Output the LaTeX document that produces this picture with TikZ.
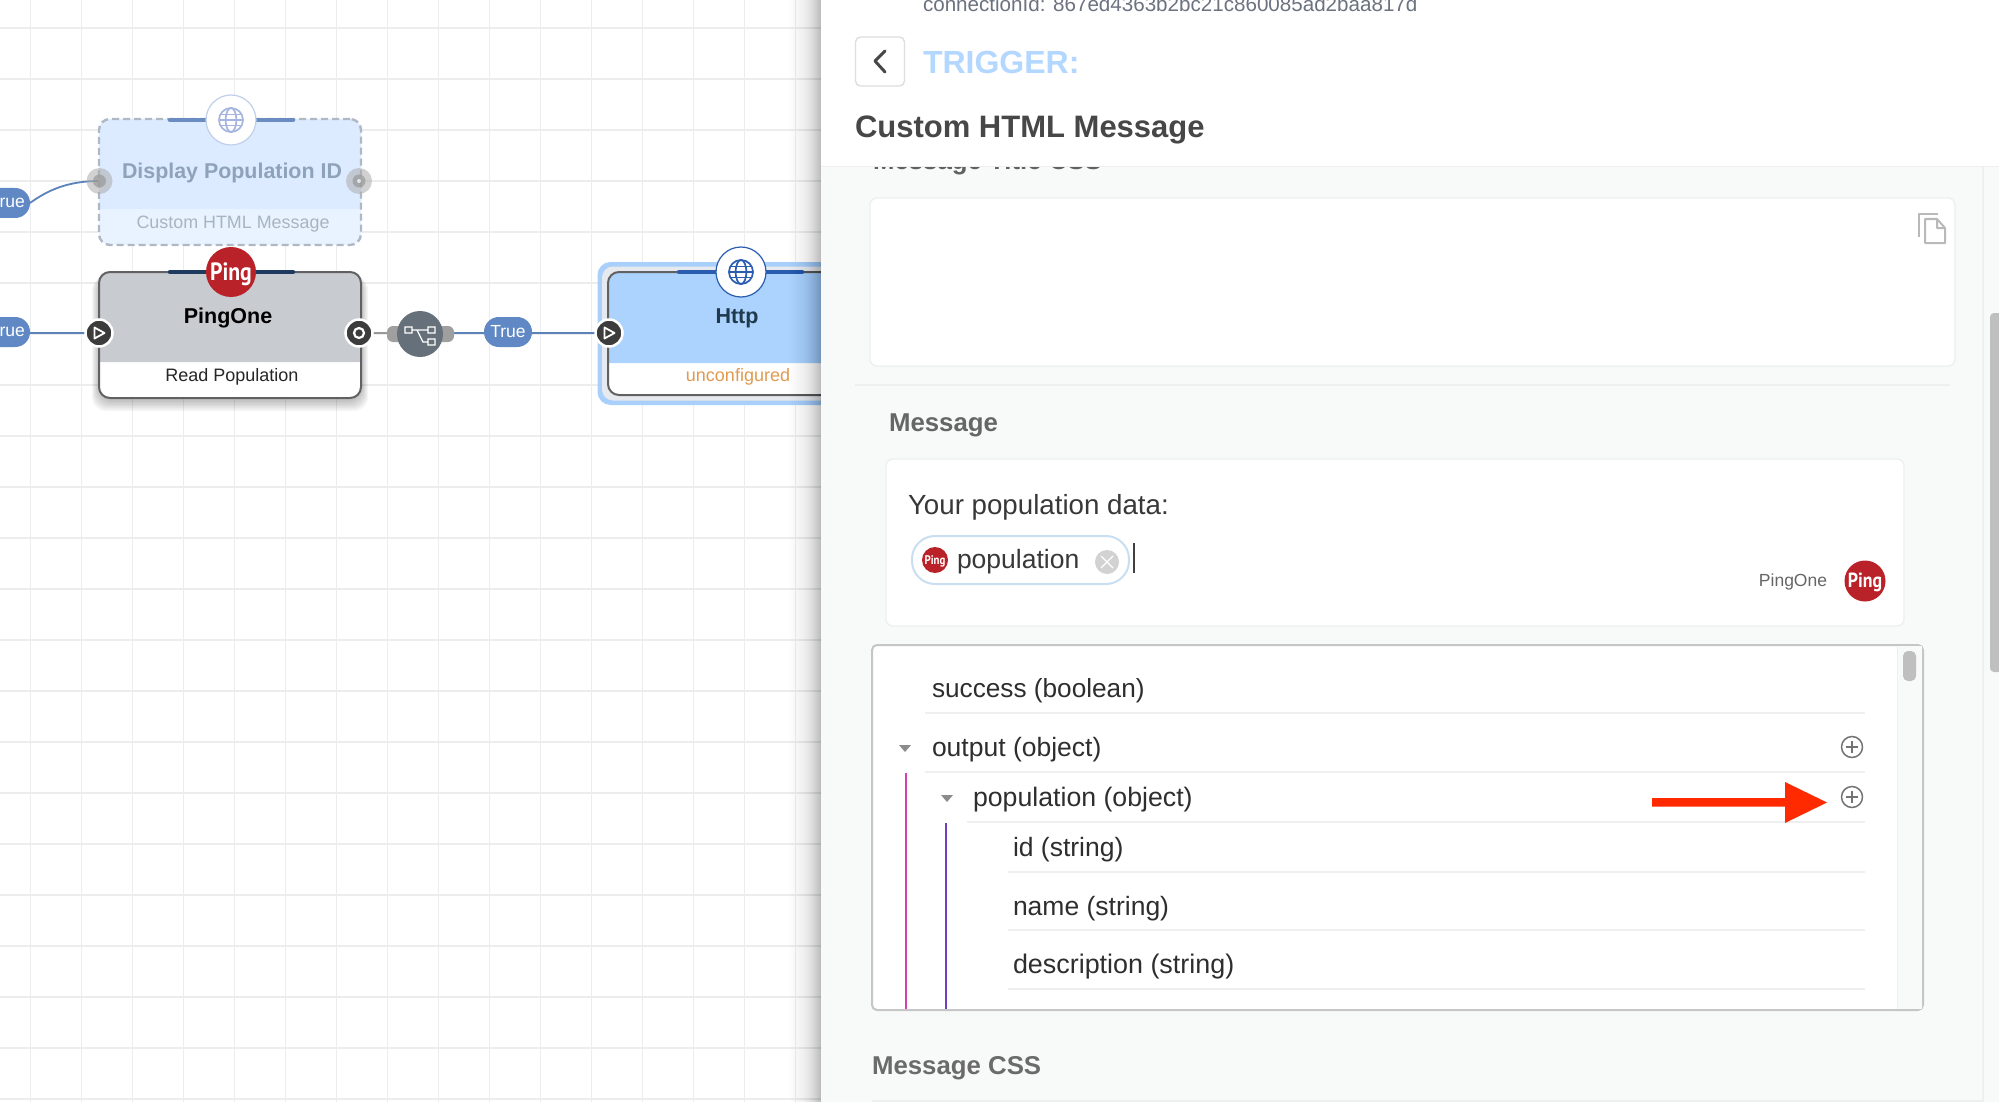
\documentclass[tikz,border=0pt]{standalone}
\usepackage{fontspec}
\setmainfont{Liberation Sans}
\newfontfamily\pingfont{PT Sans}
\usetikzlibrary{shapes.misc,backgrounds}
\definecolor{gridc}{HTML}{ECEDEF}
\definecolor{panelbg}{HTML}{F8F9F9}
\definecolor{sepc}{HTML}{EEEFF0}
\definecolor{edgec}{HTML}{5B82BB}
\definecolor{pillc}{HTML}{5F88C4}
\definecolor{pingred}{HTML}{B82228}
\definecolor{darkport}{HTML}{3C3C3C}
\definecolor{barc}{HTML}{1E3A5F}
\definecolor{httpbar}{HTML}{2A5CB0}
\definecolor{pinkc}{HTML}{D63FB0}
\definecolor{purplec}{HTML}{7040C0}
\definecolor{redarrow}{HTML}{FF2A00}
\definecolor{grayfill}{HTML}{C8CBD0}
\definecolor{httpfill}{HTML}{ABD3FD}
\definecolor{halo}{HTML}{A9D0FB}
\definecolor{halogap}{HTML}{E6E9EE}
\definecolor{orangec}{HTML}{E09A50}
\definecolor{triggerc}{HTML}{B3D7FF}
\definecolor{dispfill}{HTML}{DCEBFF}
\definecolor{dispfillb}{HTML}{E8F3FF}
\definecolor{disptext}{HTML}{8FA3B8}
\definecolor{dispsubt}{HTML}{A8B4C0}
\definecolor{dispdash}{HTML}{B0B8C4}
\definecolor{dispring}{HTML}{C0D0E8}
\definecolor{dispglobe}{HTML}{A5B5E0}
\definecolor{dispbar}{HTML}{6A8CC0}
\definecolor{httptext}{HTML}{1F3A4D}
\definecolor{branchc}{HTML}{66707A}
\definecolor{connc}{HTML}{6B7280}
\definecolor{chipc}{HTML}{C9DFF0}
\newcommand{\fs}[1]{\fontsize{#1}{#1}\selectfont}
\newcommand{\drawglobe}[4]{%
  \begin{scope}[shift={(#1,#2)},#4,line width=1.7pt]
    \draw (0,0) circle (#3 pt);
    \draw (0,0) ellipse ({0.45*#3 pt} and {#3 pt});
    \draw ({-#3 pt},0) -- ({#3 pt},0);
    \draw ({-0.9*#3 pt},{-0.45*#3 pt}) -- ({0.9*#3 pt},{-0.45*#3 pt});
    \draw ({-0.9*#3 pt},{0.45*#3 pt}) -- ({0.9*#3 pt},{0.45*#3 pt});
  \end{scope}}
\tikzset{
  x=1pt,y=-1pt,
  lbl/.style={inner sep=0pt,outer sep=0pt,anchor=base west},
  ctr/.style={inner sep=0pt,outer sep=0pt,anchor=center},
  flowbox/.style={rectangle,rounded corners=11pt,minimum width=262pt,minimum height=126pt,inner sep=0pt,outer sep=0pt},
  edgeline/.style={draw=edgec,line width=1.8pt},
  pill/.style={rectangle,rounded corners=14.9pt,fill=pillc,inner sep=0pt,outer sep=0pt,minimum height=30pt},
  badge/.style={circle,minimum size=50pt,inner sep=0pt,outer sep=0pt},
  port/.style={circle,fill=darkport,draw=white,line width=2.5pt,minimum size=27pt,inner sep=0pt,outer sep=0pt},
  barline/.style={line width=4.5pt,line cap=round},
  rowsep/.style={draw=sepc,line width=1.4pt},
  card/.style={rectangle,rounded corners=7pt,fill=white,draw=sepc,line width=1.4pt,inner sep=0pt,outer sep=0pt},
  rowtext/.style={lbl,text=black!82},
  plusicon/.style={circle,draw=black!55,line width=1.5pt,minimum size=21pt,inner sep=0pt,outer sep=0pt},
}
\begin{document}
\begin{tikzpicture}
\useasboundingbox (0,0) rectangle (1999,1102);
\clip (0,0) rectangle (1999,1102);

% ---- flow canvas: nodes on the main layer
\node[flowbox,draw=dispdash,dash pattern=on 7pt off 4pt,line width=2.4pt,
  path picture={
   \fill[dispfillb] (-140,-70) rectangle (140,70);
   \fill[dispfill] (-140,-70) rectangle (140,27);}] (dispbox) at (230,182) {};
\draw[barline,draw=dispbar] (170,120) -- (293,120);
\node[badge,fill=white,draw=dispring,line width=1.2pt] (dispbadge) at (231,120) {};
\drawglobe{231}{120}{12}{draw=dispglobe}
\node[ctr,font=\bfseries\fs{21.4},text=disptext] (disptitle) at (232,172.5) {Display Population ID};
\node[ctr,font=\fs{17.9},text=dispsubt] (dispsub) at (233,224) {Custom HTML Message};
\node[circle,fill=gray!65,opacity=.55,minimum size=26pt,inner sep=0pt] (portB) at (99.5,181) {};
\node[circle,fill=gray!80,opacity=.7,minimum size=13pt,inner sep=0pt] (portBi) at (99.5,181) {};
\node[circle,fill=gray!65,opacity=.55,minimum size=26pt,inner sep=0pt] (portBr) at (359,181) {};
\node[circle,fill=gray!80,opacity=.7,minimum size=13pt,inner sep=0pt] (portBri) at (359,181) {};
\node[circle,fill=white,opacity=.7,minimum size=4pt,inner sep=0pt] (portBrd) at (359,181) {};

\node[flowbox,draw=black!62,line width=2pt,
  path picture={
   \fill[white] (-140,-70) rectangle (140,70);
   \fill[grayfill] (-140,-70) rectangle (140,27);}] (pingbox) at (230,335) {};
\draw[barline,draw=barc] (170,272) -- (293,272);
\node[badge,fill=pingred] (pingbadge) at (231,272) {};
\node[ctr,font=\pingfont\bfseries\fs{25},text=white] (pingword) at (231,274) {\scalebox{.87}[1]{Ping}};
\node[ctr,font=\bfseries\fs{21.5},text=black] (pingtitle) at (228,318) {PingOne};
\node[ctr,font=\fs{18},text=black!85] (pingsub) at (232,377) {Read Population};
\node[port] (portA) at (99,333) {};
\draw[white,line width=1.8pt,line join=round] (94.5,327.5) -- (94.5,338.5) -- (104.5,333) -- cycle;
\node[port] (portAr) at (359,333) {};
\draw[white,line width=2.2pt] (359,333) circle (5pt);

\node[rectangle,rounded corners=13pt,fill=halo,minimum width=283pt,minimum height=143pt,inner sep=0pt] (httphalo) at (739,333.5) {};
\node[rectangle,rounded corners=11pt,fill=halogap,minimum width=274pt,minimum height=134pt,inner sep=0pt] (httpgap) at (739,333.5) {};
\node[flowbox,draw=black!62,line width=2pt,minimum height=123pt,
  path picture={
   \fill[white] (-140,-70) rectangle (140,70);
   \fill[httpfill] (-140,-70) rectangle (140,29.5);}] (httpbox) at (739,333.5) {};
\draw[barline,draw=httpbar] (679,272) -- (802,272);
\node[badge,fill=white,draw=httpbar,line width=1.2pt] (httpbadge) at (741,272) {};
\drawglobe{741}{272}{12}{draw=httpbar}
\node[ctr,font=\bfseries\fs{21.5},text=httptext] (httptitle) at (737,318) {Http};
\node[ctr,font=\fs{18},text=orangec] (httpsub) at (738,377) {unconfigured};
\node[port] (portC) at (609,333) {};
\draw[white,line width=1.8pt,line join=round] (604.5,327.5) -- (604.5,338.5) -- (614.5,333) -- cycle;

\node[rectangle,rounded corners=6pt,fill=gray!75,minimum width=67pt,minimum height=16pt,inner sep=0pt,outer sep=0pt] (branchnub) at (420.5,334) {};
\node[circle,fill=branchc,minimum size=46pt,inner sep=0pt,outer sep=0pt] (branch) at (420,334) {};
\draw[white,line width=1.3pt] (405,327) rectangle (412,333) (428,327) rectangle (435,333) (428,339) rectangle (435,345)
  (412,330) -- (428,330) (417,330) -- (423,342) -- (428,342);

\node[pill,minimum width=60pt] (pillA) at (0,332) {};
\node[anchor=east,inner sep=0pt,font=\fs{17.5},text=white] (pillAt) at (25,332) {rue};
\node[pill,minimum width=60pt] (pillB) at (0,203) {};
\node[anchor=east,inner sep=0pt,font=\fs{17.5},text=white] (pillBt) at (25,203) {rue};
\node[pill,minimum width=48pt,font=\fs{17.5},text=white] (pillC) at (508,332) {True};

% ---- everything behind the nodes
\begin{pgfonlayer}{background}
  \fill[white] (0,0) rectangle (1999,1102);
  \foreach \gx in {30.7,81.7,...,830} {\draw[gridc,line width=1.3pt] (\gx,0) -- (\gx,1102);}
  \foreach \gy in {28,79,...,1102} {\draw[gridc,line width=1.3pt] (0,\gy) -- (830,\gy);}
  \foreach \sh in {1,...,7} {
    \fill[black,opacity=.035,rounded corners=14pt] ({99-\sh},{276}) rectangle ({361+\sh},{400+\sh*1.6});
  }
  \draw[edgeline] (pillA.east |- portA.west) -- (portA.west);
  \draw[edgeline] (pillB.east) .. controls (48,190) and (68,181) .. (portB.center);
  \draw[gray!80,line width=1.8pt] (portAr.east) -- (branchnub.west |- portAr.east);
  \draw[edgeline] (branchnub.east |- portC.west) -- (pillC.west |- portC.west);
  \draw[edgeline] (pillC.east |- portC.west) -- (portC.west);
\end{pgfonlayer}

% ---- panel shadow
\foreach \i in {0,...,31} {
  \pgfmathsetmacro{\op}{0.018*(\i/31)^2+0.002}
  \fill[black,opacity=\op] ({789+\i},0) rectangle (821,1102);
}

% ---- right-hand panel
\fill[panelbg] (821,0) rectangle (1999,1102);
\node[lbl,font=\bfseries\fs{25.8},text=black!62] (titlecss) at (873,169.5) {Message Title CSS};
\fill[white] (821,0) rectangle (1999,166);
\draw[sepc,line width=1.2pt] (821,166.5) -- (1999,166.5);
\node[lbl,font=\fs{20.6},text=connc] (connid) at (923,12) {connectionId: 867ed4363b2bc21c860085ad2baa817d};
\node[rectangle,rounded corners=5pt,fill=white,draw=black!13,line width=1.4pt,minimum width=49pt,minimum height=49pt,inner sep=0pt] (backbtn) at (880,61.5) {};
\draw[black!72,line width=3pt,line cap=round,line join=round] (885,51) -- (875,61) -- (885,72);
\node[lbl,font=\bfseries\fs{32},text=triggerc] (trigger) at (923,74) {TRIGGER:};
\node[lbl,font=\bfseries\fs{31},text=black!72] (heading) at (855,138) {Custom HTML Message};

\draw[sepc,line width=1.2pt] (1983,166) -- (1983,1102);
\fill[gray!50,rounded corners=4pt] (1990,313) rectangle (2010,672);

\node[card,minimum width=1085pt,minimum height=168pt] (titlebox) at (1412.5,282) {};
\draw[gray!55,line width=2pt,line join=round] (1938,214) -- (1919,214) -- (1919,237);
\draw[gray!55,line width=2pt,line join=round] (1925,219) -- (1937,219) -- (1945,228) -- (1945,243) -- (1925,243) -- cycle (1937,219) -- (1937,228) -- (1945,228);
\draw[rowsep] (855,385) -- (1950,385);

\node[lbl,font=\bfseries\fs{25.8},text=black!60] (msglabel) at (889,431) {Message};
\node[card,minimum width=1018pt,minimum height=167pt] (msgbox) at (1395,542.5) {};
\node[lbl,font=\fs{27.7},text=black!78] (yourdata) at (908,514) {Your population data:};
\node[rectangle,rounded corners=23pt,fill=white,draw=chipc,line width=2pt,minimum width=217pt,minimum height=48pt,inner sep=0pt] (chip) at (1020.5,560) {};
\node[circle,fill=pingred,minimum size=26pt,inner sep=0pt] (chipping) at (935,560) {};
\node[ctr,font=\pingfont\bfseries\fs{12.5},text=white] (chipword) at (935,561) {\scalebox{.87}[1]{Ping}};
\node[lbl,font=\fs{26.5},text=black!78] (chiptext) at (957,568) {population};
\node[circle,fill=gray!35,minimum size=24pt,inner sep=0pt] (chipx) at (1107,562) {};
\draw[white,line width=1.3pt] (1101,556) -- (1113,568) (1113,556) -- (1101,568);
\draw[black!75,line width=1.3pt] (1134,543) -- (1134,573);
\node[ctr,font=\fs{17.5},text=black!60] (pingonelabel) at (1793,582) {PingOne};
\node[circle,fill=pingred,minimum size=41pt,inner sep=0pt] (pingright) at (1865,581) {};
\node[ctr,font=\pingfont\bfseries\fs{20.5},text=white] (pingrightword) at (1865,582) {\scalebox{.87}[1]{Ping}};

% ---- tree list
\node[rectangle,rounded corners=5pt,fill=white,draw=gray!45,line width=2pt,minimum width=1051pt,minimum height=365pt,inner sep=0pt] (listbox) at (1397.5,827.5) {};
\fill[panelbg] (1897,646) rectangle (1922,1009);
\draw[sepc,line width=1pt] (1897,646) -- (1897,1009);
\fill[gray!50,rounded corners=5pt] (1903,651) rectangle (1916,681);
\draw[rowsep] (925,713) -- (1865,713);
\draw[rowsep] (925,772) -- (1865,772);
\draw[rowsep] (967,822) -- (1865,822);
\draw[rowsep] (1008,872) -- (1865,872);
\draw[rowsep] (1008,930) -- (1865,930);
\draw[rowsep] (1008,989) -- (1865,989);
\node[rowtext,font=\fs{26.2}] (r1) at (932,697) {success (boolean)};
\node[rowtext,font=\fs{26.5}] (r2) at (932,756) {output (object)};
\node[rowtext,font=\fs{26.7}] (r3) at (973,806) {population (object)};
\node[rowtext,font=\fs{26.5}] (r4) at (1013,856) {id (string)};
\node[rowtext,font=\fs{26.5}] (r5) at (1013,915) {name (string)};
\node[rowtext,font=\fs{26.9}] (r6) at (1013,973) {description (string)};
\fill[gray!90] (899,745) -- (911,745) -- (905,752) -- cycle;
\fill[gray!90] (941,795) -- (953,795) -- (947,802) -- cycle;
\draw[pinkc,line width=1.6pt] (906,773) -- (906,1009);
\draw[purplec,line width=1.6pt] (946,823) -- (946,1009);
\node[plusicon] (plusA) at (1852,747) {};
\draw[black!55,line width=1.4pt] (1846,747) -- (1858,747) (1852,741) -- (1852,753);
\node[plusicon] (plusB) at (1852,797) {};
\draw[black!55,line width=1.4pt] (1846,797) -- (1858,797) (1852,791) -- (1852,803);
\fill[redarrow] (1652,798) -- (1785,798) -- (1785,782) -- (1827,802.5) -- (1785,823) -- (1785,806.5) -- (1652,806.5) -- cycle;
\node[lbl,font=\bfseries\fs{25.8},text=black!58] (csslabel) at (872,1074) {Message CSS};
\draw[rowsep] (872,1101) -- (1983,1101);
\end{tikzpicture}
\end{document}
